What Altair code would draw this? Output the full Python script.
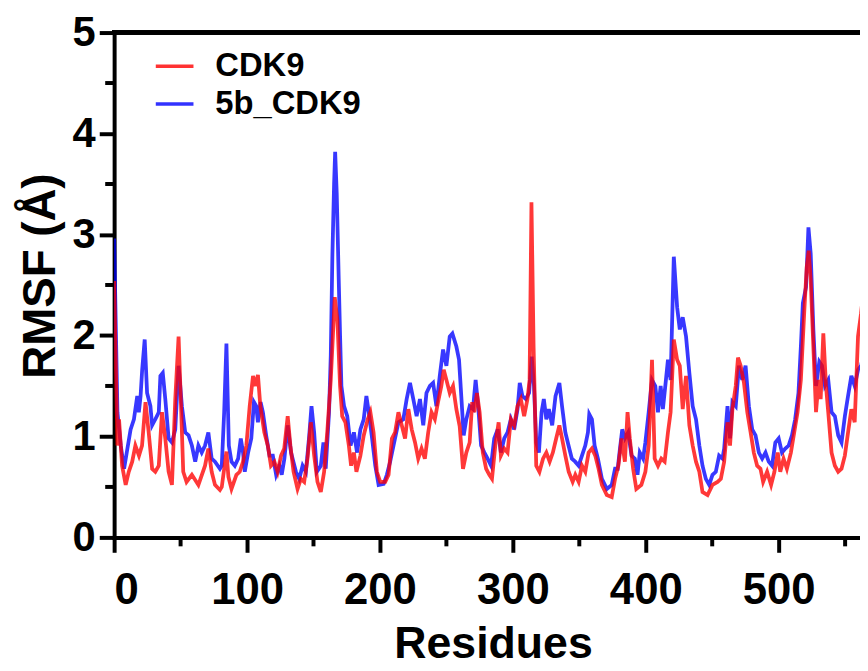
import altair as alt
import pandas as pd

# ---------------- data ----------------
cdk9_res = [0, 2.5, 3.7, 6, 8.7, 11, 13.6, 16, 18.7, 21, 23.6, 26, 28.6, 31, 33.6, 36, 38.5, 41, 43.5, 46,
            48.5, 50.5, 52, 54.5, 58.5, 63.4, 68.4, 70.9, 73.4, 75.9, 79.6, 81, 83, 84.5, 86, 88.3, 92,
            94.5, 97, 99.5, 102, 104.5, 106.2, 108.2, 110, 113, 115.6, 118, 120.6, 123, 125.6, 128,
            130.6, 132.6, 135, 138, 140.5, 143, 145.5, 148, 150.5, 153, 155.5, 158, 160.5, 163, 166,
            168, 170, 171.6, 174, 176.6, 178.3, 180.4, 182.3, 185.3, 187.8, 190.8, 192.8, 195.2, 197.7,
            200.2, 204, 206.5, 209, 211.4, 213.9, 216.4, 218.9, 221.4, 223.9, 226.4, 228.8, 231.3,
            233.8, 236.3, 238.8, 241.3, 243.7, 246.2, 248, 250, 252.5, 255, 257.5, 260, 262.5, 265,
            267.5, 269.4, 271, 273, 275, 277.4, 279.9, 282.3, 284.3, 286.8, 289.3, 291, 293.5, 296,
            298.5, 301, 303.5, 306, 308.5, 311, 312.6, 314, 315.6, 317.6, 320, 322.7, 325.2, 327.7,
            330.1, 332.6, 335, 337, 339.5, 342, 345, 347, 349.5, 352, 354.5, 357, 359.5, 362, 364.5,
            367, 370.7, 374.4, 376.9, 379.4, 381.8, 384.3, 386.3, 388, 390.5, 392.9, 396.7, 399.7,
            402.2, 404.7, 406.7, 409.2, 411.7, 414.2, 416.7, 418.7, 421.1, 423.6, 425.6, 427.8, 430.3,
            432.8, 435.3, 437.8, 440.3, 442.7, 446.5, 450.2, 454, 456.5, 459, 461.5, 463.4, 465.2,
            467.7, 469.4, 471.4, 473.9, 476.4, 478.9, 481.3, 483.8, 486.3, 488.3, 491.3, 494.3, 496.8,
            499.3, 501.2, 503.7, 506.2, 509.2, 511.7, 514.2, 516.7, 519.2, 521.1, 522.6, 524.1, 526.1,
            528.1, 530.1, 531.6, 533.6, 535.6, 537.3, 539.8, 542.3, 544.8, 547.3, 549.8, 552.2, 554.7,
            557.2, 559.7, 562, 565]
cdk9_rmsf = [2.54, 0.91, 1.17, 0.71, 0.52, 0.65, 0.75, 0.91, 0.81, 0.91, 1.34, 1.04, 0.68, 0.65, 0.71,
             1.24, 0.98, 0.65, 0.52, 1.37, 1.99, 1.24, 0.65, 0.55, 0.62, 0.52, 0.71, 0.88, 0.65, 0.52,
             0.47, 0.50, 0.70, 0.85, 0.60, 0.48, 0.62, 0.65, 0.75, 0.91, 1.30, 1.60, 1.50, 1.61, 1.30,
             1.04, 0.91, 0.71, 0.75, 0.65, 0.81, 0.88, 1.20, 0.91, 0.65, 0.48, 0.58, 0.55, 0.78, 1.14,
             0.81, 0.55, 0.45, 0.65, 1.07, 1.56, 2.38, 2.15, 1.50, 1.20, 1.14, 0.91, 0.71, 0.84, 0.65,
             0.81, 1.01, 1.17, 1.24, 1.04, 0.65, 0.55, 0.55, 0.62, 0.98, 1.04, 1.24, 1.11, 0.98, 1.27,
             1.07, 0.94, 0.78, 0.88, 0.78, 1.04, 1.24, 1.17, 1.34, 1.50, 1.66, 1.56, 1.43, 1.50, 1.27,
             1.10, 0.68, 0.84, 0.94, 1.34, 1.24, 1.43, 1.24, 0.84, 0.68, 0.62, 0.58, 0.91, 1.14, 0.81,
             0.88, 0.84, 1.17, 1.11, 1.30, 1.37, 1.20, 1.37, 1.56, 3.32, 1.89, 0.71, 0.65, 0.78, 0.84,
             0.75, 0.84, 0.98, 1.11, 0.98, 0.81, 0.65, 0.55, 0.62, 0.55, 0.71, 0.65, 0.84, 0.88, 0.81,
             0.68, 0.52, 0.42, 0.40, 0.58, 0.71, 0.98, 0.75, 1.24, 0.98, 0.68, 0.48, 0.52, 0.65, 0.91,
             1.76, 0.78, 0.71, 0.78, 0.75, 1.04, 1.24, 1.96, 1.76, 1.70, 1.27, 1.60, 1.11, 0.91, 0.75,
             0.65, 0.45, 0.42, 0.52, 0.55, 0.58, 0.75, 1.14, 0.91, 1.27, 1.50, 1.78, 1.70, 1.53, 1.24,
             1.04, 0.84, 0.71, 0.68, 0.55, 0.65, 0.52, 0.65, 0.84, 0.65, 0.78, 0.68, 0.84, 1.04, 1.24,
             1.56, 2.22, 2.68, 2.84, 2.55, 1.89, 1.24, 1.56, 1.37, 2.02, 1.50, 1.24, 0.84, 0.71, 0.65,
             0.68, 0.81, 1.04, 1.27, 1.14, 1.99, 2.22, 2.60]

b5_res = [0, 2.5, 5, 7.5, 10, 12.4, 14.9, 17.4, 18.6, 19.9, 21.1, 23, 24.8, 27.3, 28.6, 31, 33.6, 34.8,
          36.6, 38.5, 41, 43.5, 46, 48.5, 51, 53.5, 56, 58.5, 61, 63.4, 65.9, 68.4, 70.9, 73.4, 75.9,
          79.6, 81, 82.8, 84.5, 86.3, 88.3, 90.8, 93.3, 95.3, 97, 98.3, 100.8, 103.2, 105.2, 106.9,
          108.2, 110.2, 111.9, 114.4, 116.9, 119.4, 121.9, 124.4, 126.1, 128.1, 130.6, 133.1, 136.8,
          139.3, 141.8, 144.3, 146.8, 148.5, 150.5, 152.5, 155.5, 157.5, 159.2, 161.7, 163, 164.2,
          165.5, 166.3, 167.5, 169, 170, 171, 173, 175.4, 177.9, 180.4, 182.8, 185.3, 187.8, 189.8,
          191.6, 194.1, 196.5, 199, 202.8, 205.2, 207.7, 210.2, 213.9, 217.6, 220.1, 222.6, 225.1,
          227.6, 230.1, 232.6, 235, 237.6, 240, 242.5, 245, 247.5, 250, 252.5, 254.5, 257.5, 259.5,
          261.2, 263, 265, 267.5, 270, 272, 273.9, 276.1, 278.6, 281, 283.6, 286, 288.6, 291, 293.5,
          296, 298.5, 301, 303.5, 305.2, 307.2, 309.7, 312.2, 314.2, 315.9, 317.6, 319.6, 321.6,
          323.3, 325.2, 327.1, 329.6, 332.1, 335, 337, 339.5, 341.9, 344.4, 346.9, 349.5, 352, 354.5,
          356.5, 357.5, 359.5, 361.5, 364, 367, 370.7, 374.4, 376.9, 378.9, 380.6, 382.3, 384.3,
          386.8, 389.3, 391.8, 393.8, 395.5, 398, 399.7, 402.2, 404.7, 407.2, 409.2, 411.2, 412.9,
          414.7, 416.7, 418.7, 421.1, 423.6, 425.6, 427.8, 430.3, 432.8, 435.3, 437.8, 440.3, 442.7,
          445.2, 447.7, 450.2, 452.7, 455.2, 457.7, 459, 461.5, 463.4, 465.2, 467.7, 470.1, 472.6,
          475.1, 477.6, 480.1, 482.6, 485.1, 487.6, 490.1, 492.5, 495, 497.5, 500, 502.5, 505, 507.5,
          510, 512.4, 514.9, 516.7, 518.2, 520.6, 522.4, 524.1, 526.1, 528.1, 530.6, 532.6, 534.8,
          537.3, 539.8, 542.3, 544.8, 547.3, 549.8, 552.2, 554.7, 557.2, 559.7, 562, 565]
b5_rmsf = [2.96, 1.24, 0.91, 0.68, 0.88, 1.07, 1.17, 1.40, 1.24, 1.40, 1.66, 1.96, 1.43, 1.30, 1.11, 1.17,
           1.24, 1.60, 1.63, 1.37, 0.98, 0.94, 1.07, 1.70, 1.30, 1.04, 1.01, 0.91, 0.75, 0.91, 0.84,
           0.91, 1.04, 0.78, 0.75, 0.68, 0.71, 1.24, 1.92, 0.91, 0.75, 0.71, 0.78, 0.98, 0.84, 0.65,
           0.84, 0.98, 1.34, 1.30, 1.14, 1.34, 1.24, 1.01, 0.81, 0.81, 0.62, 0.71, 0.62, 0.78, 1.11,
           0.84, 0.65, 0.58, 0.71, 0.65, 1.01, 1.30, 1.04, 0.65, 0.71, 0.94, 0.68, 1.24, 1.80, 2.78,
           3.50, 3.82, 3.40, 2.55, 2.00, 1.50, 1.30, 1.20, 0.91, 1.04, 0.84, 1.07, 1.17, 1.40, 1.24,
           0.98, 0.71, 0.52, 0.53, 0.62, 0.75, 0.91, 1.14, 1.17, 1.37, 1.53, 1.37, 1.20, 1.37, 1.11,
           1.43, 1.50, 1.53, 1.30, 1.60, 1.86, 1.70, 1.99, 2.02, 1.89, 1.76, 1.40, 1.01, 1.17, 1.30,
           1.27, 1.56, 1.30, 0.91, 0.84, 0.78, 0.71, 0.98, 1.07, 0.84, 0.98, 1.04, 1.17, 1.07, 1.27,
           1.53, 1.40, 1.37, 1.43, 1.79, 1.50, 0.94, 0.84, 1.24, 1.37, 1.17, 1.27, 1.11, 1.40, 1.53,
           1.30, 1.04, 0.91, 0.78, 0.75, 0.71, 0.81, 0.91, 1.04, 1.22, 1.17, 0.91, 0.78, 0.58, 0.48,
           0.52, 0.68, 0.68, 0.88, 1.07, 0.98, 1.04, 0.81, 0.78, 0.62, 0.84, 0.78, 0.94, 1.24, 1.56,
           1.50, 1.24, 1.50, 1.27, 1.50, 1.76, 1.56, 2.78, 2.28, 2.06, 2.18, 1.99, 1.63, 1.30, 1.17,
           0.91, 0.71, 0.58, 0.52, 0.62, 0.65, 0.81, 0.78, 0.88, 1.30, 0.98, 1.34, 1.30, 1.70, 1.56,
           1.70, 1.30, 1.07, 1.01, 0.84, 0.78, 0.84, 0.75, 0.71, 0.94, 0.98, 0.84, 0.88, 0.91, 1.01,
           1.17, 1.43, 1.89, 2.32, 2.48, 3.07, 2.81, 2.06, 1.50, 1.74, 1.70, 1.50, 1.56, 1.24, 1.20,
           1.01, 0.94, 1.20, 1.40, 1.60, 1.50, 1.66, 1.70, 1.90]

series_names = ["CDK9", "5b_CDK9"]
series_colors = ["#ff0000", "#0000ff"]
x_major = [0, 100, 200, 300, 400, 500]
x_minor = [50, 150, 250, 350, 450, 550]
y_major = [0, 1, 2, 3, 4, 5]
y_minor = [0.5, 1.5, 2.5, 3.5, 4.5]
x_title = "Residues"
y_title = "RMSF (Å)"

# ---------------- chart ----------------
W, H = 752, 509
FONT = "Liberation Sans"

red_df = pd.DataFrame({"residue": cdk9_res, "rmsf": cdk9_rmsf, "series": series_names[0]})
blue_df = pd.DataFrame({"residue": b5_res, "rmsf": b5_rmsf, "series": series_names[1]})
xmin_df = pd.DataFrame({"residue": x_minor})
ymin_df = pd.DataFrame({"rmsf": y_minor})

xscale = alt.Scale(domain=[0, W / 1.34], nice=False, zero=False)
yscale = alt.Scale(domain=[0, 5], nice=False)

xaxis = alt.Axis(values=x_major, format="d", title=x_title, tickSize=15, tickWidth=4,
                 domainWidth=4, domainCap="square", labelPadding=17, labelFontSize=44,
                 titleFontSize=45, titleX=382, titleY=121, titleBaseline="alphabetic",
                 titleAlign="center", grid=False)
yaxis = alt.Axis(values=y_major, format="d", title=y_title, tickSize=15, tickWidth=4,
                 domainWidth=4, domainCap="square", labelPadding=4, labelFontSize=42,
                 titleFontSize=46, titleAngle=270, titleX=-60, titleY=245,
                 titleBaseline="alphabetic", titleAlign="center", grid=False)

X = alt.X("residue:Q", scale=xscale, axis=xaxis)
Y = alt.Y("rmsf:Q", scale=yscale, axis=yaxis)

color = alt.Color(
    "series:N",
    scale=alt.Scale(domain=series_names, range=series_colors),
    legend=alt.Legend(title=None, orient="none", legendX=40, legendY=13,
                      symbolType="stroke", symbolSize=1444, symbolStrokeWidth=3.5,
                      symbolOpacity=0.8, labelFontSize=33, labelFont=FONT,
                      labelFontWeight="bold", labelOffset=20, rowPadding=-3, padding=0),
)

blue_line = alt.Chart(blue_df).mark_line(strokeWidth=3.8, opacity=0.78, clip=True).encode(
    x=X, y=Y, color=color)
red_line = alt.Chart(red_df).mark_line(strokeWidth=3.8, opacity=0.78, clip=True).encode(
    x=X, y=Y, color=color)

x_minor_ticks = alt.Chart(xmin_df).mark_rule(color="black", strokeWidth=4).encode(
    x=X, y=alt.value(H), y2=alt.value(H + 9))
y_minor_ticks = alt.Chart(ymin_df).mark_rule(color="black", strokeWidth=4).encode(
    y=Y, x=alt.value(-9), x2=alt.value(0))
top_border = alt.Chart(xmin_df).mark_rule(color="black", strokeWidth=4).encode(
    x=alt.value(-2), x2=alt.value(W + 4), y=alt.value(0))

chart = alt.layer(top_border, x_minor_ticks, y_minor_ticks, blue_line, red_line).properties(
    width=W, height=H,
    autosize=alt.AutoSizeParams(type="none"),
    padding={"left": 107, "top": 22, "right": 0, "bottom": 140},
).configure_view(stroke=None).configure_axis(
    labelFont=FONT, titleFont=FONT, labelFontWeight="bold", titleFontWeight="bold",
    labelColor="black", titleColor="black", domainColor="black", tickColor="black",
)

chart.save("out.html", embed_options={"renderer": "svg", "actions": False})
